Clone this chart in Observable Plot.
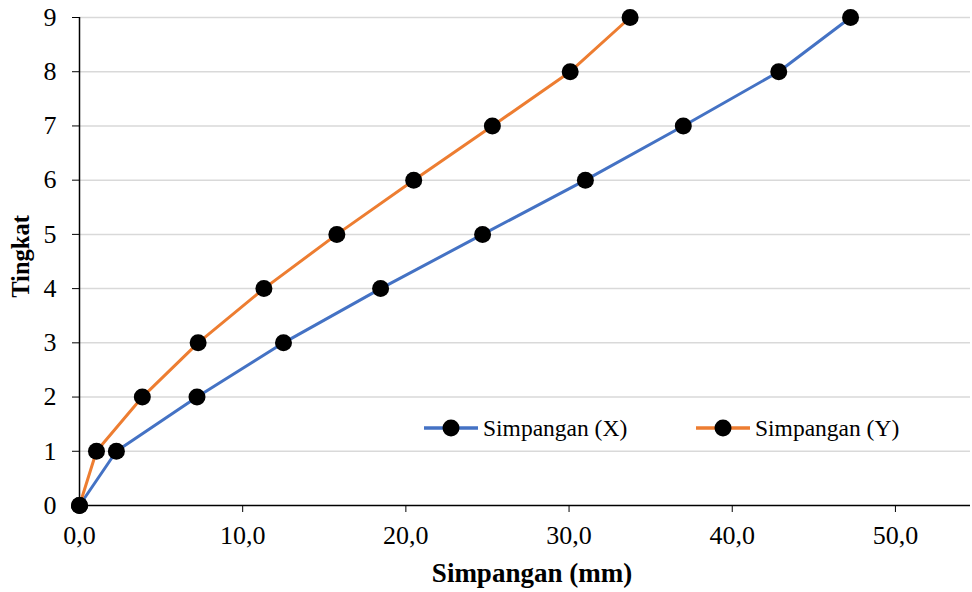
<!DOCTYPE html>
<html>
<head>
<meta charset="utf-8">
<script src="https://cdn.jsdelivr.net/npm/d3@7"></script>
<script src="https://cdn.jsdelivr.net/npm/@observablehq/plot@0.6"></script>
<style>
  html, body { margin: 0; padding: 0; background: #fff; }
  #wrap { position: relative; width: 972px; height: 592px; font-family: "Liberation Serif", "Times New Roman", serif; }
  .legend { position: absolute; top: 414px; height: 28px; display: flex; align-items: center; font-size: 23.5px; color: #000; }
  .legend svg { margin-right: 5px; }
</style>
</head>
<body>
<div id="wrap"></div>
<script>
const levels = [0, 1, 2, 3, 4, 5, 6, 7, 8, 9];
const simpanganX = [0, 2.26, 7.2, 12.5, 18.45, 24.7, 31.0, 37.0, 42.85, 47.25];
const simpanganY = [0, 1.04, 3.85, 7.27, 11.3, 15.77, 20.48, 25.3, 30.07, 33.74];
const seriesNames = ["Simpangan (X)", "Simpangan (Y)"];
const seriesColors = ["#4472C4", "#ED7D31"];
const xTicks = [0, 10, 20, 30, 40, 50];
const yTicks = [0, 1, 2, 3, 4, 5, 6, 7, 8, 9];

const rows = [];
[simpanganX, simpanganY].forEach((vals, s) => {
  vals.forEach((v, i) => rows.push({series: seriesNames[s], x: v, y: levels[i]}));
});

const fmt = d => d3.format(".1f")(d).replace(".", ",");
const font = "'Liberation Serif', 'Times New Roman', serif";

const chart = Plot.plot({
  width: 972,
  height: 592,
  marginLeft: 79,
  marginRight: 2,
  marginTop: 17,
  marginBottom: 87,
  style: {fontFamily: font, fontSize: "26px", color: "#000", background: "#fff"},
  x: {domain: [0, 54.6]},
  y: {domain: [0, 9]},
  color: {domain: seriesNames, range: seriesColors},
  marks: [
    Plot.gridY(yTicks.filter(d => d > 0), {stroke: "#d9d9d9", strokeOpacity: 1, strokeWidth: 1.5}),
    Plot.axisX(xTicks, {tickFormat: fmt, tickSize: 7, tickPadding: 13, label: null, fontSize: 26, stroke: "#000"}),
    Plot.axisY(yTicks, {tickFormat: d => String(d), tickSize: 7, tickPadding: 16, label: null, fontSize: 26, stroke: "#000"}),
    Plot.ruleY([0], {stroke: "#000", strokeWidth: 1.5}),
    Plot.ruleX([0], {stroke: "#000", strokeWidth: 1.5}),
    Plot.line(rows, {x: "x", y: "y", z: "series", stroke: "series", strokeWidth: 3}),
    Plot.dot(rows, {x: "x", y: "y", r: 8.5, fill: "#000", stroke: "none"}),
    Plot.text(["Simpangan (mm)"], {frameAnchor: "bottom", lineAnchor: "middle", dy: 68, dx: 7, fontWeight: "bold", fontSize: 27, text: d => d, fill: "#000"}),
    Plot.text(["Tingkat"], {frameAnchor: "left", textAnchor: "middle", lineAnchor: "middle", dx: -58, dy: -5, rotate: -90, fontWeight: "bold", fontSize: 24.5, text: d => d, fill: "#000"})
  ]
});

const wrap = document.getElementById("wrap");
wrap.appendChild(chart);

const legendX = [424, 696];
seriesNames.forEach((name, i) => {
  const div = document.createElement("div");
  div.className = "legend";
  div.style.left = legendX[i] + "px";
  div.innerHTML = `<svg width="54" height="20"><line x1="0" y1="10" x2="54" y2="10" stroke="${seriesColors[i]}" stroke-width="3.5"/><circle cx="27" cy="10" r="8.5" fill="#000"/></svg><span>${name}</span>`;
  wrap.appendChild(div);
});
</script>
</body>
</html>
